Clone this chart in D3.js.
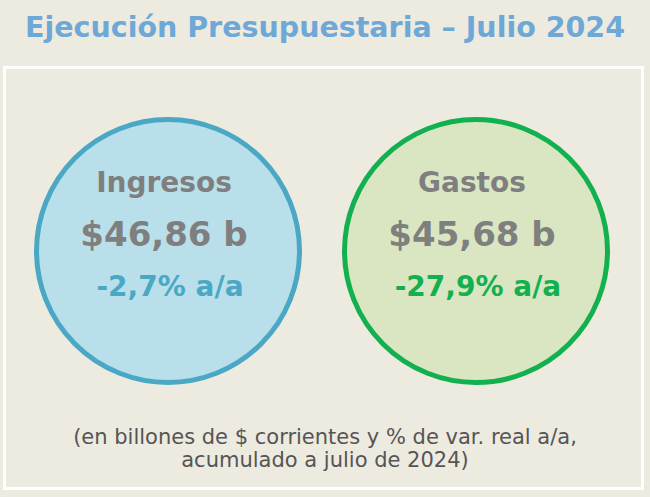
<!DOCTYPE html>
<html>
<head>
<meta charset="utf-8">
<script src="https://cdn.jsdelivr.net/npm/d3@7"></script>
<style>
  html, body { margin: 0; padding: 0; background: #edeae0; }
  svg { display: block; }
  text { font-family: "DejaVu Sans", sans-serif; }
</style>
</head>
<body>
<svg id="chart" width="650" height="497"></svg>
<script>
// ---- data ----
const title = "Ejecución Presupuestaria – Julio 2024";
const categories = ["Ingresos", "Gastos"];
const amounts = ["$46,86 b", "$45,68 b"];
const changes = ["-2,7% a/a", "-27,9% a/a"];
const footnote = [
  "(en billones de $ corrientes y % de var. real a/a,",
  "acumulado a julio de 2024)"
];

// ---- styles ----
const W = 650, H = 497;
const fills = ["#b8dfea", "#d9e6c1"];
const strokes = ["#4aa8c5", "#12b04f"];
const changeColors = ["#4aa8c5", "#12b04f"];
const grey = "#7f7f7f";

const svg = d3.select("#chart");
svg.append("rect").attr("width", W).attr("height", H).attr("fill", "#edeae0");

// title
svg.append("text")
  .attr("x", W / 2).attr("y", 37)
  .attr("text-anchor", "middle")
  .attr("font-size", 28).attr("font-weight", "bold")
  .attr("fill", "#6ea8d6")
  .attr("textLength", 600).attr("lengthAdjust", "spacingAndGlyphs")
  .text(title);

// frame
svg.append("rect")
  .attr("x", 4.5).attr("y", 67.5).attr("width", 638).attr("height", 421)
  .attr("fill", "none").attr("stroke", "#ffffff").attr("stroke-width", 3);

// circles positioned by a point scale
const x = d3.scalePoint().domain(categories).range([168, 476]);
const cy = 251;

const g = svg.selectAll("g.item").data(categories).join("g")
  .attr("class", "item")
  .attr("transform", d => `translate(${x(d)},${cy})`);

g.append("circle")
  .attr("r", 131.5)
  .attr("fill", (d, i) => fills[i])
  .attr("stroke", (d, i) => strokes[i])
  .attr("stroke-width", 5);

g.append("text")
  .attr("x", -4).attr("y", -59)
  .attr("text-anchor", "middle")
  .attr("font-size", 28).attr("font-weight", "bold")
  .attr("fill", grey)
  .text(d => d);

g.append("text")
  .attr("x", -4).attr("y", -5)
  .attr("text-anchor", "middle")
  .attr("font-size", 34).attr("font-weight", "bold")
  .attr("fill", grey)
  .text((d, i) => amounts[i]);

g.append("text")
  .attr("x", 2).attr("y", 45)
  .attr("text-anchor", "middle")
  .attr("font-size", 28).attr("font-weight", "bold")
  .attr("fill", (d, i) => changeColors[i])
  .text((d, i) => changes[i]);

// footnote
svg.selectAll("text.foot").data(footnote).join("text")
  .attr("class", "foot")
  .attr("x", W / 2)
  .attr("y", (d, i) => 444 + i * 23)
  .attr("text-anchor", "middle")
  .attr("font-size", 21)
  .attr("fill", "#555555")
  .text(d => d);
</script>
</body>
</html>
